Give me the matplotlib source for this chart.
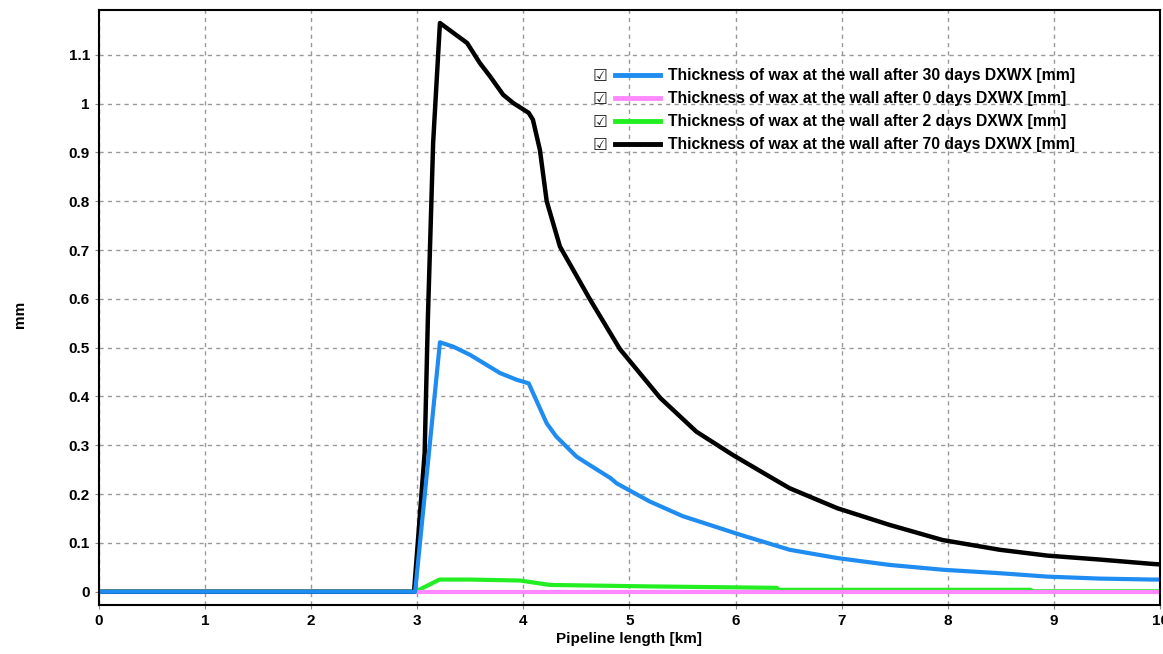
import matplotlib.pyplot as plt
import numpy as np

plt.rcParams['font.family'] = ['Liberation Sans', 'DejaVu Sans']

# Data (x in km, thickness in mm)
x_30 = [0, 2.98, 3.214, 3.34, 3.50, 3.78, 3.94, 4.05, 4.22, 4.31, 4.50, 4.60, 4.82, 4.88,
        5.19, 5.5, 6.04, 6.51, 6.96, 7.45, 7.96, 8.49, 8.94, 9.43, 9.93, 10.0]
y_30 = [0, 0, 0.511, 0.502, 0.485, 0.448, 0.434, 0.427, 0.345, 0.318, 0.277, 0.263, 0.233, 0.222,
        0.185, 0.155, 0.117, 0.086, 0.069, 0.055, 0.045, 0.038, 0.031, 0.027, 0.025, 0.025]

x_0 = [0, 10.0]
y_0 = [0, 0]

x_2 = [0, 2.98, 3.21, 3.5, 3.97, 4.25, 5.19, 6.39, 6.4, 8.78, 8.8, 10.0]
y_2 = [0, 0, 0.025, 0.025, 0.023, 0.014, 0.011, 0.008, 0.004, 0.004, 0.001, 0.001]

x_70 = [0, 2.97, 3.07, 3.10, 3.15, 3.214, 3.32, 3.47, 3.59, 3.685, 3.81, 3.905, 4.05, 4.09,
        4.156, 4.22, 4.345, 4.63, 4.91, 5.29, 5.63, 5.975, 6.32, 6.51, 6.96, 7.45, 7.95,
        8.49, 8.94, 9.43, 9.93, 10.0]
y_70 = [0, 0, 0.285, 0.557, 0.92, 1.165, 1.148, 1.124, 1.083, 1.056, 1.018, 1.001, 0.981, 0.967,
        0.905, 0.80, 0.707, 0.598, 0.497, 0.397, 0.328, 0.28, 0.236, 0.212, 0.171, 0.137, 0.106,
        0.086, 0.074, 0.066, 0.057, 0.056]

labels = ['Thickness of wax at the wall after 30 days DXWX [mm]',
          'Thickness of wax at the wall after 0 days DXWX [mm]',
          'Thickness of wax at the wall after 2 days DXWX [mm]',
          'Thickness of wax at the wall after 70 days DXWX [mm]']

fig = plt.figure(figsize=(11.63, 6.54), dpi=100)
ax = fig.add_axes([0.085, 0.075, 0.9125, 0.91])

# draw order: green, pink, black, blue (blue on top)
l2, = ax.plot(x_2, y_2, color='#22ee22', lw=3, label=labels[2])
l0, = ax.plot(x_0, y_0, color='#ff88ff', lw=3, label=labels[1])
l70, = ax.plot(x_70, y_70, color='black', lw=3.2, label=labels[3])
l30, = ax.plot(x_30, y_30, color='#1e8cf0', lw=3, label=labels[0])

ax.set_xlim(0, 10)
ax.set_ylim(-0.027, 1.192)
ax.set_xticks(np.arange(0, 11, 1))
ax.set_yticks([0, 0.1, 0.2, 0.3, 0.4, 0.5, 0.6, 0.7, 0.8, 0.9, 1, 1.1])
ax.set_yticklabels(['0', '0.1', '0.2', '0.3', '0.4', '0.5', '0.6', '0.7', '0.8', '0.9', '1', '1.1'])
ax.tick_params(length=3, color='#888888', labelsize=11)
for lab in ax.get_xticklabels() + ax.get_yticklabels():
    lab.set_fontweight('bold')

ax.grid(True, color='#999999', linestyle=(0, (3, 3)), lw=1)
for s in ax.spines.values():
    s.set_color('black')
    s.set_linewidth(1.5)

ax.set_xlabel('Pipeline length [km]', fontweight='bold', fontsize=11, labelpad=3)
fig.text(0.011, 0.52, 'mm', rotation=90, fontweight='bold', fontsize=11, va='center')

leg = ax.legend(handles=[l30, l0, l2, l70], loc='upper left', bbox_to_anchor=(0.522, 0.908),
                bbox_transform=fig.transFigure, frameon=False, borderpad=0,
                handlelength=2.85, handletextpad=0.5, labelspacing=0.52,
                prop={'weight': 'bold', 'size': 11.3})
for h in leg.get_lines():
    h.set_linewidth(3.5)

# check boxes in front of each legend entry
fig.canvas.draw()
inv = fig.transFigure.inverted()
for t in leg.get_texts():
    bb = t.get_window_extent()
    yc = inv.transform((0, (bb.y0 + bb.y1) / 2))[1]
    fig.text(0.516, yc, '\u2611', family='DejaVu Sans', fontsize=12, ha='center', va='center', color='#222222')

plt.savefig('out.png', dpi=100)
